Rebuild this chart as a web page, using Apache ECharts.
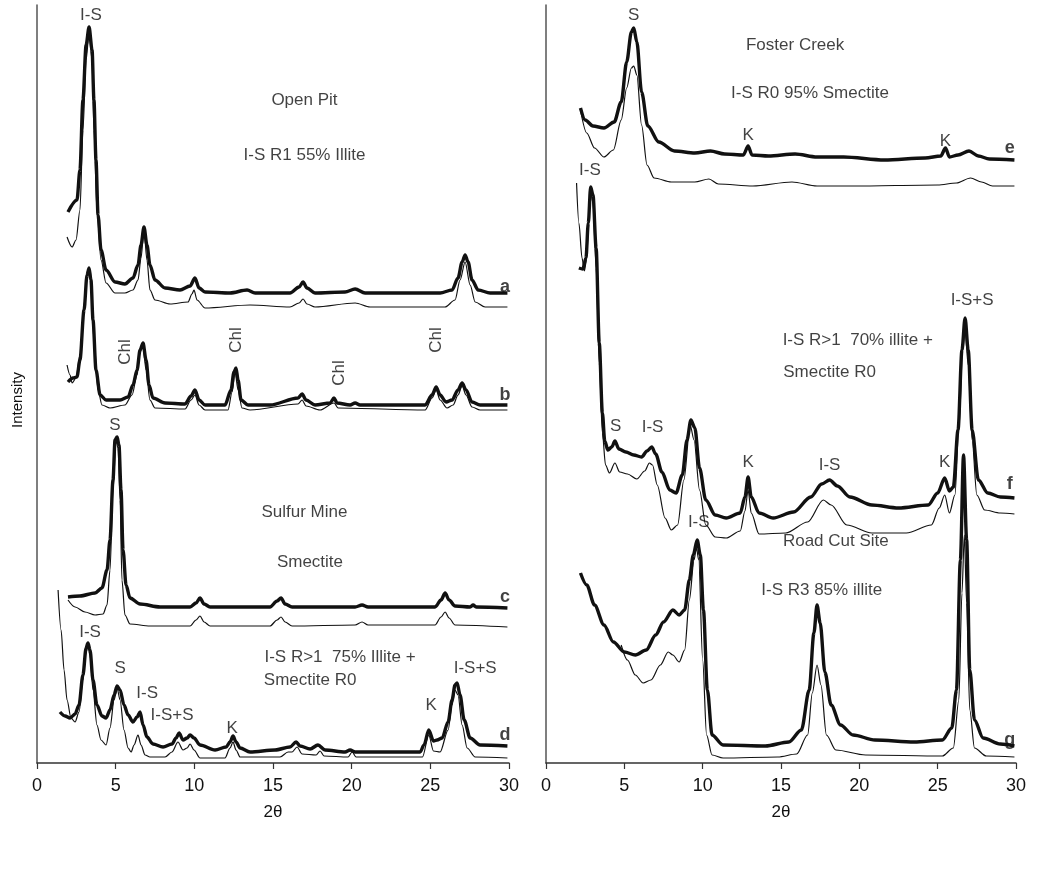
<!DOCTYPE html>
<html>
<head>
<meta charset="utf-8">
<script src="https://cdn.jsdelivr.net/npm/echarts@6/dist/echarts.min.js"></script>
<style>
  html, body { margin: 0; padding: 0; background: #fff; }
  #chart { width: 1055px; height: 878px; }
</style>
</head>
<body>
<div id="chart"></div>
<script>
// XRD patterns, 2θ vs intensity (arbitrary, stacked). thick = observed, thin = calculated

// ---- left panel ----
var aObs = [[1.97,551],[2.54,563],[2.73,593],[2.92,663],[3.12,718],[3.31,736],[3.5,713],[3.62,663],[3.75,603],[3.88,548],[4.07,513],[4.39,493],[4.96,481],[5.59,479],[6.1,485],[6.42,498],[6.61,518],[6.8,536],[6.99,518],[7.18,498],[7.5,483],[8.14,475],[9.09,473],[9.73,477],[10.04,485],[10.3,475],[10.68,471],[12.27,470],[13.35,473],[13.86,470],[16.08,470],[16.66,476],[16.91,481],[17.16,475],[17.67,470],[19.58,471],[20.22,474],[20.85,470],[25.62,470],[26.38,473],[26.76,485],[27.02,501],[27.21,508],[27.4,501],[27.65,483],[28.04,473],[28.8,470],[29.9,470]];
var aCalc = [[1.91,526],[2.23,516],[2.48,523],[2.73,553],[2.92,633],[3.12,703],[3.31,731],[3.5,703],[3.62,633],[3.81,553],[4.07,503],[4.39,480],[4.96,470],[5.59,470],[6.1,473],[6.42,483],[6.61,505],[6.8,533],[6.99,503],[7.18,473],[7.5,463],[8.46,459],[9.6,461],[9.85,469],[9.98,473],[10.17,463],[10.68,455],[13.54,458],[16.08,456],[16.66,460],[16.91,464],[17.16,459],[17.67,456],[20.22,460],[21.17,456],[25.94,456],[26.57,463],[26.89,483],[27.21,501],[27.53,478],[27.85,461],[28.48,456],[29.9,456]];
var bObs = [[1.97,381],[2.29,385],[2.54,386],[2.73,403],[2.99,453],[3.18,488],[3.31,495],[3.43,483],[3.56,443],[3.75,393],[4.01,368],[4.39,363],[5.28,363],[5.79,366],[6.1,378],[6.36,393],[6.55,413],[6.74,420],[6.93,403],[7.12,378],[7.37,365],[8.14,360],[9.41,359],[9.79,367],[10.04,373],[10.3,363],[10.68,358],[11.95,358],[12.33,373],[12.52,391],[12.65,395],[12.78,383],[12.97,363],[13.41,358],[14.81,358],[16.59,365],[16.85,369],[17.1,363],[17.67,358],[18.63,360],[18.88,365],[19.07,360],[19.9,358],[20.22,360],[20.53,358],[24.67,358],[25.11,368],[25.37,376],[25.62,368],[26.0,361],[26.38,363],[26.76,373],[27.02,380],[27.27,373],[27.65,361],[28.16,358],[29.9,358]];
var bCalc = [[1.91,398],[2.1,388],[2.23,380],[2.48,385],[2.73,408],[2.99,458],[3.18,491],[3.31,495],[3.43,478],[3.62,423],[3.88,373],[4.13,358],[4.64,355],[5.59,358],[6.04,368],[6.36,388],[6.55,411],[6.74,417],[6.93,393],[7.18,363],[7.5,355],[9.41,354],[9.79,363],[10.04,368],[10.3,358],[10.68,353],[12.14,353],[12.4,371],[12.59,391],[12.78,373],[13.03,355],[13.54,353],[16.59,359],[16.85,363],[17.1,357],[17.99,353],[18.88,360],[19.14,355],[24.67,353],[25.11,365],[25.37,373],[25.62,363],[26.06,355],[26.45,358],[26.76,368],[27.02,377],[27.27,368],[27.65,356],[28.16,353],[29.9,353]];
var cObs = [[1.97,166],[2.73,167],[3.69,170],[4.13,175],[4.45,193],[4.64,223],[4.83,283],[4.96,323],[5.09,326],[5.21,318],[5.34,273],[5.47,213],[5.66,178],[5.91,165],[6.55,159],[7.82,156],[9.73,156],[10.11,160],[10.36,165],[10.62,159],[11.0,156],[14.81,156],[15.26,162],[15.51,165],[15.77,159],[16.21,156],[20.22,156],[20.66,158],[21.04,156],[25.3,156],[25.68,163],[25.94,170],[26.19,163],[26.57,157],[27.53,156],[27.72,158],[27.91,156],[29.9,155]];
var cCalc = [[1.97,163],[2.42,156],[3.05,151],[3.69,148],[4.2,149],[4.45,158],[4.64,193],[4.83,273],[5.02,323],[5.15,315],[5.28,263],[5.4,183],[5.59,148],[5.91,139],[7.18,137],[9.73,137],[10.11,143],[10.36,147],[10.62,141],[11.0,137],[14.81,137],[15.26,143],[15.51,146],[15.77,141],[16.21,137],[20.22,138],[20.66,141],[21.04,138],[25.3,138],[25.68,146],[25.94,151],[26.19,145],[26.57,138],[29.9,136]];
var dObs = [[1.46,51],[1.78,47],[2.1,45],[2.42,49],[2.67,58],[2.92,88],[3.12,115],[3.24,120],[3.37,113],[3.56,83],[3.81,58],[4.13,47],[4.39,45],[4.64,53],[4.9,68],[5.09,77],[5.28,73],[5.53,58],[5.79,48],[6.1,41],[6.36,46],[6.55,51],[6.74,38],[6.99,26],[7.37,19],[8.01,16],[8.58,19],[8.84,25],[9.03,30],[9.28,23],[9.54,25],[9.73,28],[9.98,25],[10.36,18],[11.32,13],[12.02,16],[12.27,21],[12.46,27],[12.65,21],[12.91,15],[13.54,11],[15.13,13],[16.08,16],[16.47,21],[16.72,17],[17.36,14],[17.86,18],[18.31,13],[19.58,11],[19.9,13],[20.22,11],[24.35,11],[24.6,18],[24.9,33],[25.2,22],[25.43,23],[25.75,25],[26.13,41],[26.38,63],[26.57,78],[26.7,80],[26.89,68],[27.15,43],[27.53,25],[28.16,18],[29.9,17]];
var dCalc = [[1.34,173],[1.53,133],[1.72,93],[1.91,63],[2.16,45],[2.42,41],[2.67,51],[2.92,83],[3.12,111],[3.24,117],[3.37,108],[3.56,73],[3.81,38],[4.07,23],[4.39,18],[4.64,35],[4.9,63],[5.09,75],[5.28,63],[5.53,33],[5.79,15],[5.98,11],[6.17,18],[6.42,28],[6.61,18],[6.87,8],[7.18,6],[8.14,6],[8.58,11],[8.96,21],[9.28,13],[9.54,15],[9.73,19],[9.98,13],[10.36,5],[11.95,5],[12.27,15],[12.46,21],[12.65,13],[12.91,6],[15.45,6],[15.96,11],[16.21,11],[16.53,16],[16.85,9],[17.74,8],[17.99,12],[18.25,7],[19.77,6],[20.03,11],[20.28,6],[24.5,6],[24.9,28],[25.2,12],[25.62,11],[26.13,33],[26.38,58],[26.57,73],[26.76,68],[27.02,38],[27.34,15],[27.85,6],[29.9,5]];

// ---- right panel ----
var eObs = [[2.2,655],[2.5,643],[3.0,637],[3.7,635],[4.35,641],[4.8,661],[5.15,701],[5.45,731],[5.6,735],[5.8,721],[6.1,671],[6.5,637],[7.2,621],[8.2,612],[9.5,610],[10.5,612],[11.4,609],[12.6,608],[12.9,617],[13.15,608],[14.2,607],[15.9,609],[17.3,606],[19.0,606],[21.6,603],[24.2,605],[25.2,607],[25.5,615],[25.75,606],[26.3,608],[27.0,612],[27.6,607],[28.3,604],[29.9,603]];
var eCalc = [[2.2,653],[2.6,630],[3.1,615],[3.7,606],[4.3,613],[4.8,643],[5.15,675],[5.45,695],[5.6,697],[5.8,688],[6.1,638],[6.45,598],[6.9,585],[8.0,581],[9.5,581],[10.4,584],[11.0,579],[13.2,577],[15.7,581],[17.3,577],[19.6,577],[25.0,578],[26.2,580],[27.1,585],[27.8,581],[28.5,577],[29.9,577]];
var fObs = [[2.1,495],[2.35,494],[2.55,505],[2.7,540],[2.85,576],[3.0,568],[3.2,515],[3.4,420],[3.6,350],[3.75,322],[3.95,313],[4.2,316],[4.4,322],[4.65,314],[5.1,311],[5.6,308],[6.1,306],[6.45,312],[6.75,316],[7.0,309],[7.4,291],[7.9,273],[8.3,270],[8.7,288],[9.0,323],[9.25,343],[9.5,335],[9.8,295],[10.2,263],[10.8,248],[11.5,245],[12.4,250],[12.7,266],[12.9,286],[13.1,266],[13.6,250],[14.5,245],[15.8,251],[16.9,266],[17.6,279],[18.1,283],[18.6,277],[19.4,266],[20.8,258],[22.5,255],[24.4,258],[25.0,270],[25.45,285],[25.75,272],[26.0,276],[26.3,333],[26.55,413],[26.75,445],[26.95,413],[27.2,333],[27.6,283],[28.2,270],[29.0,266],[29.9,265]];
var fCalc = [[1.95,580],[2.1,540],[2.3,505],[2.45,492],[2.6,505],[2.75,555],[2.85,573],[3.0,560],[3.2,495],[3.4,400],[3.6,330],[3.8,298],[4.05,290],[4.4,300],[4.7,291],[5.2,289],[5.8,284],[6.3,292],[6.6,300],[6.8,298],[7.1,278],[7.6,245],[8.0,233],[8.4,238],[8.8,283],[9.2,338],[9.45,323],[9.8,273],[10.2,238],[10.8,226],[11.5,225],[12.4,232],[12.7,252],[12.9,273],[13.1,250],[13.6,229],[15.3,230],[16.7,241],[17.7,263],[18.2,258],[19.2,238],[20.8,230],[23.0,230],[24.6,238],[25.1,255],[25.45,268],[25.75,250],[26.1,268],[26.35,333],[26.6,413],[26.75,433],[26.95,398],[27.2,323],[27.5,268],[28.0,253],[29.0,250],[29.9,249]];
var gObs = [[2.2,190],[2.6,178],[3.1,158],[3.7,138],[4.3,121],[5.0,111],[5.7,108],[6.4,113],[7.0,128],[7.5,141],[8.1,153],[8.5,148],[8.85,153],[9.15,183],[9.4,208],[9.65,223],[9.85,208],[10.05,153],[10.3,73],[10.6,28],[11.3,18],[14.0,17],[15.5,21],[16.3,33],[16.8,73],[17.1,130],[17.3,158],[17.5,140],[17.8,91],[18.2,58],[18.8,38],[19.6,28],[21.0,23],[23.5,21],[25.3,23],[25.9,35],[26.2,73],[26.45,203],[26.65,308],[26.85,223],[27.05,93],[27.35,43],[27.9,25],[29.0,19],[29.9,17]];
var gCalc = [[4.8,118],[5.2,103],[5.7,88],[6.2,80],[6.7,83],[7.3,98],[7.8,111],[8.1,108],[8.5,101],[8.85,113],[9.15,163],[9.45,203],[9.6,215],[9.75,203],[10.0,103],[10.25,28],[10.6,8],[11.3,5],[14.8,6],[16.0,9],[16.7,28],[17.0,70],[17.3,98],[17.55,78],[17.9,28],[18.5,13],[20.4,8],[25.3,7],[26.0,15],[26.35,63],[26.55,170],[26.7,228],[26.85,160],[27.05,53],[27.35,15],[28.1,7],[29.9,6]];

// ---- annotations [2θ, intensity, text] ----
var leftTexts = [
  [3.43, 748, 'I-S'], [17.0, 663, 'Open Pit'], [17.0, 608, 'I-S R1 55% Illite'],
  [4.96, 338, 'S'], [17.0, 251, 'Sulfur Mine'], [17.35, 201, 'Smectite'],
  [3.37, 131, 'I-S'], [5.28, 95, 'S'], [7.0, 70, 'I-S'], [8.58, 48, 'I-S+S'], [12.4, 35, 'K'],
  [19.26, 106, 'I-S R>1  75% Illite +'], [17.36, 83, 'Smectite R0'], [25.05, 58, 'K'], [27.85, 95, 'I-S+S']
];
var leftChl = [[5.6, 411], [12.65, 423], [19.2, 390], [25.4, 423]];
var leftTags = [[29.75, 476, 'a'], [29.75, 368, 'b'], [29.75, 166, 'c'], [29.75, 28, 'd']];
var rightTexts = [
  [5.6, 748, 'S'], [15.9, 718, 'Foster Creek'], [16.85, 670, 'I-S R0 95% Smectite'],
  [12.9, 628, 'K'], [25.5, 622, 'K'],
  [2.8, 593, 'I-S'], [4.45, 337, 'S'], [6.8, 336, 'I-S'],
  [19.9, 423, 'I-S R>1  70% illite +'], [18.1, 391, 'Smectite R0'],
  [12.9, 301, 'K'], [18.1, 298, 'I-S'], [25.45, 301, 'K'], [27.2, 463, 'I-S+S'],
  [18.5, 222, 'Road Cut Site'], [9.75, 241, 'I-S'], [17.6, 173, 'I-S R3 85% illite']
];
var rightTags = [[29.6, 615, 'e'], [29.6, 279, 'f'], [29.6, 23, 'g']];

var INK = '#111';
var FONT = 'Liberation Sans, Arial, sans-serif';

var chart = echarts.init(document.getElementById('chart'), null, { renderer: 'canvas' });

function trace(data, side, thick) {
  return {
    type: 'line', xAxisIndex: side, yAxisIndex: side, data: data,
    showSymbol: false, smooth: 0.3, smoothMonotone: 'x', silent: true,
    lineStyle: { color: INK, width: thick ? 3.4 : 1.2 },
    z: thick ? 3 : 2
  };
}

function textSeries(list, side, opts) {
  opts = opts || {};
  return {
    type: 'scatter', xAxisIndex: side, yAxisIndex: side, symbolSize: 0, silent: true,
    data: list.map(function (t) { return { value: [t[0], t[1]], name: t[2] || 'Chl' }; }),
    label: {
      show: true, position: 'inside', formatter: '{b}', color: INK,
      fontFamily: FONT, fontSize: opts.size || 17, fontWeight: opts.bold ? 'bold' : 'normal',
      rotate: opts.rotate || 0
    },
    z: 5
  };
}

function xAxis(grid) {
  return {
    type: 'value', gridIndex: grid, min: 0, max: 30, interval: 5,
    name: '2θ', nameLocation: 'middle', nameGap: 41,
    nameTextStyle: { fontFamily: FONT, fontSize: 17, color: INK },
    axisLine: { lineStyle: { color: '#333', width: 1.5 } },
    axisTick: { inside: false, length: 6, lineStyle: { color: '#333', width: 1.2 } },
    axisLabel: { fontFamily: FONT, fontSize: 18, color: INK, margin: 14 },
    splitLine: { show: false }
  };
}

function yAxis(grid) {
  return {
    type: 'value', gridIndex: grid, min: 0, max: 758,
    axisLine: { show: true, lineStyle: { color: '#555', width: 1.5 } },
    axisTick: { show: false }, axisLabel: { show: false }, splitLine: { show: false }
  };
}

chart.setOption({
  animation: false,
  backgroundColor: '#fff',
  grid: [
    { left: 37, right: 546, top: 5, bottom: 115 },
    { left: 546, right: 39, top: 5, bottom: 115 }
  ],
  xAxis: [xAxis(0), xAxis(1)],
  yAxis: [yAxis(0), yAxis(1)],
  graphic: [{
    type: 'text', x: 18, y: 400, rotation: Math.PI / 2,
    style: { text: 'Intensity', fill: INK, font: '15px ' + FONT, textAlign: 'center', textVerticalAlign: 'middle' }
  }],
  series: [
    trace(aCalc, 0, false), trace(aObs, 0, true),
    trace(bCalc, 0, false), trace(bObs, 0, true),
    trace(cCalc, 0, false), trace(cObs, 0, true),
    trace(dCalc, 0, false), trace(dObs, 0, true),
    trace(eCalc, 1, false), trace(eObs, 1, true),
    trace(fCalc, 1, false), trace(fObs, 1, true),
    trace(gCalc, 1, false), trace(gObs, 1, true),
    textSeries(leftTexts, 0),
    textSeries(leftChl, 0, { rotate: 90 }),
    textSeries(leftTags, 0, { bold: true, size: 18 }),
    textSeries(rightTexts, 1),
    textSeries(rightTags, 1, { bold: true, size: 18 })
  ]
});

window.addEventListener('resize', chart.resize);
</script>
</body>
</html>
